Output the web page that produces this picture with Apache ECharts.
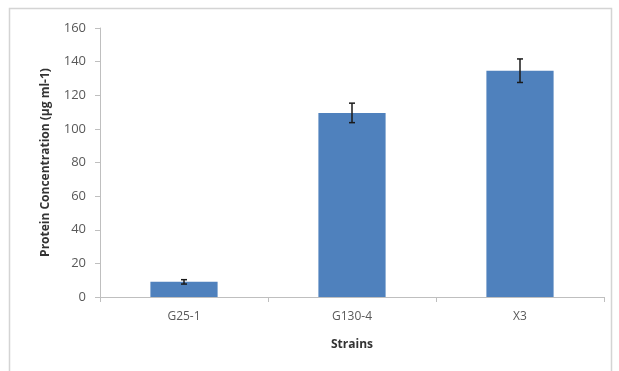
<!DOCTYPE html>
<html><head><meta charset="utf-8">
<script src="https://cdn.jsdelivr.net/npm/echarts@6/dist/echarts.min.js"></script>
<style>html,body{margin:0;padding:0;background:#fff}#c{width:619px;height:371px}</style>
</head><body><div id="c"></div>
<script>
var categories = ['G25-1', 'G130-4', 'X3'];
var values = [9, 109.5, 134.6];
var errors = [1.3, 5.8, 7];
var yTicks = [0, 20, 40, 60, 80, 100, 120, 140, 160];

var chart = echarts.init(document.getElementById('c'));
var errData = categories.map(function (c, i) { return [i, values[i] - errors[i], values[i] + errors[i]]; });
chart.setOption({
  animation: false,
  backgroundColor: '#fff',
  graphic: [{ type: 'rect', shape: { x: 9.5, y: 8.5, width: 602, height: 380 }, style: { fill: 'none', stroke: '#d4d4d4', lineWidth: 1.5 }, silent: true }],
  grid: { left: 100, right: 15, top: 28, bottom: 74, containLabel: false },
  xAxis: {
    type: 'category', data: categories,
    name: 'Strains', nameLocation: 'middle', nameGap: 42,
    nameTextStyle: { fontFamily: 'Open Sans', fontWeight: 'bold', fontSize: 12, color: '#333' },
    axisLine: { lineStyle: { color: '#bfbfbf', width: 1 } },
    axisTick: { show: true, alignWithLabel: false, length: 5, lineStyle: { color: '#bfbfbf' } },
    axisLabel: { fontFamily: 'Open Sans', fontSize: 12, color: '#595959', margin: 14 }
  },
  yAxis: {
    type: 'value', min: 0, max: 160, interval: 20,
    name: 'Protein Concentration (µg ml-1)', nameLocation: 'middle', nameGap: 48,
    nameTextStyle: { fontFamily: 'Open Sans', fontWeight: 'bold', fontSize: 12, color: '#333' },
    axisLine: { show: true, lineStyle: { color: '#bfbfbf', width: 1 } },
    axisTick: { show: true, inside: false, length: 5, lineStyle: { color: '#bfbfbf' } },
    splitLine: { show: false },
    axisLabel: { fontFamily: 'Open Sans', fontSize: 13, color: '#595959', margin: 14,
      formatter: function (v) { return yTicks.indexOf(v) >= 0 ? String(v) : ''; } }
  },
  series: [{
    type: 'bar', data: values, barWidth: '40%',
    itemStyle: { color: '#4f81bd' }
  }, {
    type: 'custom', data: errData, z: 10,
    renderItem: function (params, api) {
      var x = api.value(0);
      var lo = api.coord([x, api.value(1)]);
      var hi = api.coord([x, api.value(2)]);
      var hw = 3;
      var st = { stroke: '#1a1a1a', lineWidth: 1.5 };
      return { type: 'group', children: [
        { type: 'line', shape: { x1: hi[0], y1: hi[1], x2: lo[0], y2: lo[1] }, style: st },
        { type: 'line', shape: { x1: hi[0] - hw, y1: hi[1], x2: hi[0] + hw, y2: hi[1] }, style: st },
        { type: 'line', shape: { x1: lo[0] - hw, y1: lo[1], x2: lo[0] + hw, y2: lo[1] }, style: st }
      ]};
    }
  }]
});
</script></body></html>
